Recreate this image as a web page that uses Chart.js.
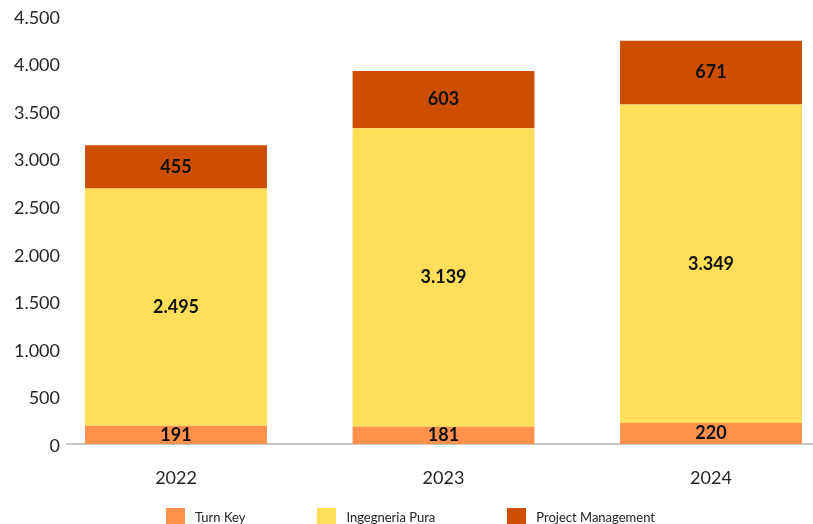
<!DOCTYPE html>
<html>
<head>
<meta charset="utf-8">
<script src="https://cdn.jsdelivr.net/npm/chart.js@4.4.1/dist/chart.umd.min.js"></script>
<style>
	body { margin: 0; background: #fff; }
	#wrap { position: relative; width: 813px; height: 524px; overflow: hidden; }
	#legend { position: absolute; left: 8px; right: 0; top: 508px; display: flex; justify-content: center; gap: 72px; font: 13px Lato, sans-serif; color: #222; }
	#legend .item { display: flex; align-items: flex-start; }
	#legend .box { width: 19px; height: 16px; margin-right: 10px; }
	#legend .txt { line-height: 16px; margin-top: 1px; }
</style>
</head>
<body>
<div id="wrap">
	<canvas id="bar-chartcanvas"></canvas>
	<div id="legend"></div>
</div>
<script>
// values
var years = ['2022', '2023', '2024'];
var turnKey = [191, 181, 220];
var ingegneriaPura = [2495, 3139, 3349];
var projectManagement = [455, 603, 671];

var seriesNames = ['Turn Key', 'Ingegneria Pura', 'Project Management'];
var seriesColors = ['#FF914D', '#FFDE59', '#CC4E00'];
var yTicks = [0, 500, 1000, 1500, 2000, 2500, 3000, 3500, 4000, 4500];

// 4500 -> "4.500"
function fmt(v) {
	return String(v).replace(/\B(?=(\d{3})+(?!\d))/g, '.');
}

// value printed in the middle of each segment
var segmentLabels = {
	id: 'segmentLabels',
	afterDatasetsDraw: function(chart) {
		var ctx = chart.ctx;
		ctx.save();
		ctx.font = 'bold 18px Lato, sans-serif';
		ctx.fillStyle = '#111';
		ctx.textAlign = 'center';
		ctx.textBaseline = 'middle';
		chart.data.datasets.forEach(function(ds, i) {
			chart.getDatasetMeta(i).data.forEach(function(bar, j) {
				var p = bar.getProps(['x', 'y', 'base'], true);
				ctx.fillText(fmt(ds.data[j]), p.x, (p.y + p.base) / 2);
			});
		});
		ctx.restore();
	}
};

var allSeries = [turnKey, ingegneriaPura, projectManagement];
var datasets = [];
for (var i = 0; i < allSeries.length; i++) {
	datasets.push({
		label: seriesNames[i],
		data: allSeries[i],
		backgroundColor: seriesColors[i],
		borderWidth: 0,
		categoryPercentage: 0.8,
		barPercentage: 0.85
	});
}

var tickFont = { family: 'Lato, sans-serif', size: 18 };

var chart = new Chart(document.getElementById('bar-chartcanvas'), {
	type: 'bar',
	data: { labels: years, datasets: datasets },
	options: {
		responsive: true,
		maintainAspectRatio: false,
		animation: false,
		layout: { padding: { top: 16, right: 0, bottom: 0, left: 0 } },
		plugins: {
			legend: { display: false },
			tooltip: { enabled: false }
		},
		scales: {
			x: {
				type: 'linear',
				stacked: true,
				offset: false,
				min: 2021.5925,
				max: 2024.3813,
				grid: { display: false, drawTicks: false },
				border: { display: true, color: '#c8c8c8', width: 2 },
				afterBuildTicks: function(scale) {
					scale.ticks = years.map(function(y) { return { value: +y }; });
				},
				afterFit: function(scale) {
					scale.height = 80;
					scale.paddingLeft = 0;
					scale.paddingRight = 0;
				},
				ticks: {
					padding: 23,
					color: '#262626',
					font: tickFont,
					callback: function(v) { return String(v); }
				}
			},
			y: {
				stacked: true,
				min: 0,
				max: 4500,
				grid: { display: false, drawTicks: false },
				border: { display: false },
				afterBuildTicks: function(scale) {
					scale.ticks = yTicks.map(function(v) { return { value: v }; });
				},
				afterFit: function(scale) {
					scale.width = 67;
					scale.paddingTop = 0;
					scale.paddingBottom = 0;
				},
				ticks: {
					padding: 7,
					labelOffset: 2,
					color: '#262626',
					font: tickFont,
					callback: function(v) { return fmt(v); }
				}
			}
		}
	},
	plugins: [segmentLabels]
});

// legend below the chart
var legend = document.getElementById('legend');
for (var k = 0; k < seriesNames.length; k++) {
	var item = document.createElement('div');
	item.className = 'item';
	var box = document.createElement('span');
	box.className = 'box';
	box.style.background = seriesColors[k];
	var txt = document.createElement('span');
	txt.className = 'txt';
	txt.textContent = seriesNames[k];
	item.appendChild(box);
	item.appendChild(txt);
	legend.appendChild(item);
}
</script>
</body>
</html>
